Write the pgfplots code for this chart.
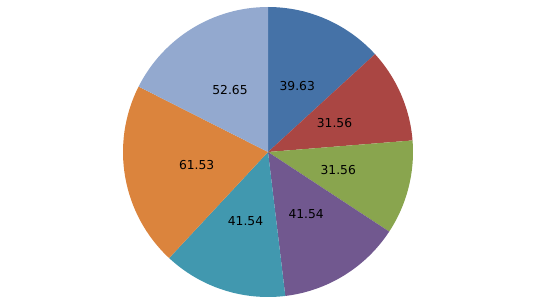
\documentclass[border=0pt]{standalone}
\usepackage{pgfplots}
\pgfplotsset{compat=1.18}
\usepackage{fontspec}
\setmainfont{DejaVu Sans}
\definecolor{c1}{HTML}{4572A7}
\definecolor{c2}{HTML}{AA4643}
\definecolor{c3}{HTML}{89A54E}
\definecolor{c4}{HTML}{71588F}
\definecolor{c5}{HTML}{4198AF}
\definecolor{c6}{HTML}{DB843D}
\definecolor{c7}{HTML}{93A9CF}
\def\total{300.01}
% \slice{color}{cumulative start}{value}
\newcommand\slice[3]{%
  \pgfplotsextra{%
    \pgfmathsetmacro\sa{90-#2/\total*360}%
    \pgfmathsetmacro\ea{90-(#2+#3)/\total*360}%
    \pgfmathsetmacro\ma{(\sa+\ea)/2}%
    \fill[#1] (axis cs:0,0) -- (axis cs:{145*cos(\sa)},{145*sin(\sa)})
      arc[start angle=\sa, end angle=\ea, radius=2.9cm] -- cycle;
    \node[font=\fontsize{7}{8}\selectfont, text=black] at (axis cs:{72.5*cos(\ma)},{72.5*sin(\ma)}) {#3};
  }%
}
\begin{document}
\begin{tikzpicture}
\begin{axis}[hide axis, scale only axis, width=10.72cm, height=6.08cm,
  xmin=-268, xmax=268, ymin=-152, ymax=152, clip=false]
\addplot[draw=none, forget plot] coordinates {(-268,-152) (268,152)};
\slice{c1}{0}{39.63}
\slice{c2}{39.63}{31.56}
\slice{c3}{71.19}{31.56}
\slice{c4}{102.75}{41.54}
\slice{c5}{144.29}{41.54}
\slice{c6}{185.83}{61.53}
\slice{c7}{247.36}{52.65}
\end{axis}
\end{tikzpicture}
\end{document}
